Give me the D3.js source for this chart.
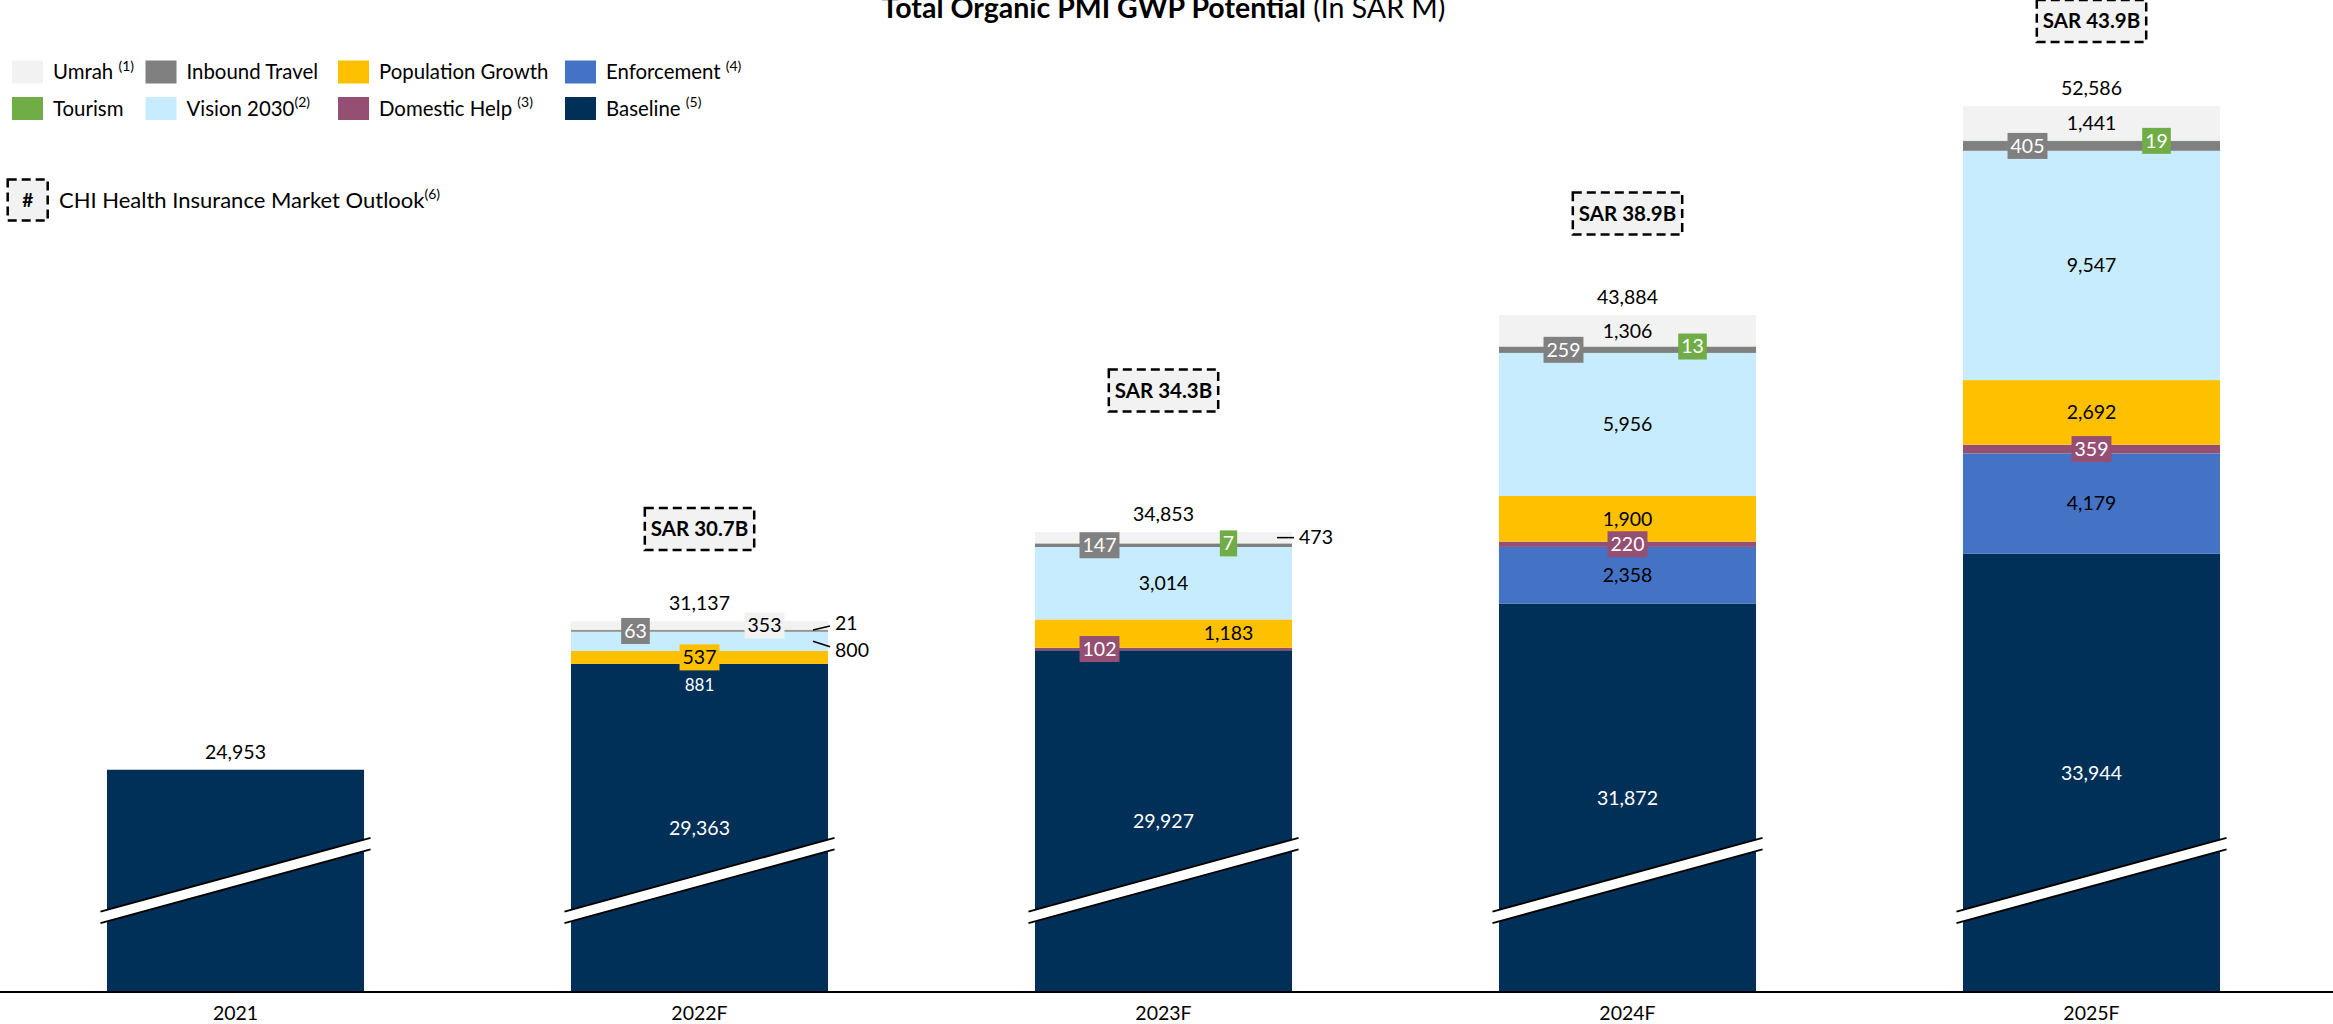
<!DOCTYPE html>
<html>
<head>
<meta charset="utf-8">
<script src="https://cdn.jsdelivr.net/npm/d3@7"></script>
<style>
  html, body { margin: 0; padding: 0; background: #ffffff; }
  svg { display: block; font-family: Lato, "Open Sans", sans-serif; }
</style>
</head>
<body>
<svg id="chart" width="2333" height="1024"></svg>
<script>
// ---- data (SAR M) ----
const categories       = ["2021", "2022F", "2023F", "2024F", "2025F"];
const baseline         = [24953, 29363, 29927, 31872, 33944];
const enforcement      = [0, 0, 0, 2358, 4179];
const domesticHelp     = [0, 0, 102, 220, 359];
const populationGrowth = [0, 537, 1183, 1900, 2692];
const vision2030       = [0, 800, 3014, 5956, 9547];
const inboundTravel    = [0, 63, 147, 259, 405];
const tourism          = [0, 21, 7, 13, 19];
const umrah            = [0, 353, 473, 1306, 1441];
const totals           = [24953, 31137, 34853, 43884, 52586];
// CHI health insurance market outlook, SAR B
const marketOutlook    = [null, 30.7, 34.3, 38.9, 43.9];
// extra figure printed inside the 2022F baseline block
const baselineNote     = [null, 881, null, null, null];

// stack order, bottom to top
const seriesNames  = ["Baseline", "Enforcement", "Domestic Help", "Population Growth",
                      "Vision 2030", "Inbound Travel", "Tourism", "Umrah"];
const seriesValues = [baseline, enforcement, domesticHelp, populationGrowth,
                      vision2030, inboundTravel, tourism, umrah];

const colors = {
  "Baseline": "#003057", "Enforcement": "#4472C4", "Domestic Help": "#954F72",
  "Population Growth": "#FFC000", "Vision 2030": "#C7ECFD", "Inbound Travel": "#808080",
  "Tourism": "#70AD47", "Umrah": "#F2F2F2"
};
const textColors = {
  "Baseline": "#ffffff", "Enforcement": "#000000", "Domestic Help": "#ffffff",
  "Population Growth": "#000000", "Vision 2030": "#000000", "Inbound Travel": "#ffffff",
  "Tourism": "#ffffff", "Umrah": "#000000"
};

// where a segment label sits when the segment is too thin to hold it
const labelLayout = {
  "2022F": { "Umrah": {pos: "r"}, "Tourism": {pos: "out", dy: -6.5},
             "Inbound Travel": {pos: "l"}, "Vision 2030": {pos: "out", dy: 9} },
  "2023F": { "Umrah": {pos: "out", dy: 0}, "Tourism": {pos: "r"}, "Inbound Travel": {pos: "l"},
             "Population Growth": {pos: "r"}, "Domestic Help": {pos: "l"} },
  "2024F": { "Tourism": {pos: "r"}, "Inbound Travel": {pos: "l"} },
  "2025F": { "Tourism": {pos: "r"}, "Inbound Travel": {pos: "l"} }
};

const table = categories.map((c, i) => {
  const row = { category: c };
  seriesNames.forEach((s, k) => row[s] = seriesValues[k][i]);
  return row;
});

// ---- layout ----
const svg = d3.select("#chart");
const axisY = 992;
const yFloor = 15700;        // value hidden behind the axis break
const axisBreak = 20340;     // value where the break band crosses each bar
const fmt = d3.format(",");
const labelSize = 19.5;
const legendSize = 20.4;

const x = d3.scaleBand().domain(categories).range([3.5, 2323.5])
  .paddingInner(0.446).paddingOuter(0.223);
const y = d3.scaleLinear().domain([yFloor, d3.max(totals)]).range([axisY, 106]).clamp(true);
const yOutlook = d3.scaleLinear().domain([30.7, 43.9]).range([529, 21]);
const bw = x.bandwidth();

const stacked = d3.stack().keys(seriesNames)(table);

// ---- bars ----
const gBars = svg.append("g");
stacked.forEach(layer => {
  gBars.selectAll(null).data(layer.filter(d => d[1] - d[0] > 0)).join("rect")
    .attr("x", d => x(d.data.category))
    .attr("y", d => y(d[1]))
    .attr("width", bw)
    .attr("height", d => y(d[0]) - y(d[1]))
    .attr("fill", colors[layer.key]);
});

// ---- axis break bands ----
const slope = 0.273, gap = 11.5, ext = 6.5;
const gBreak = svg.append("g");
categories.forEach(c => {
  const cx = x(c) + bw / 2;
  const xl = x(c) - ext, xr = x(c) + bw + ext;
  const yc = y(axisBreak);
  const topAt = xp => yc - gap / 2 - slope * (xp - cx);
  gBreak.append("polygon")
    .attr("points", [[xl, topAt(xl)], [xr, topAt(xr)], [xr, topAt(xr) + gap], [xl, topAt(xl) + gap]].join(" "))
    .attr("fill", "#ffffff");
  [0, gap].forEach(off => {
    gBreak.append("line")
      .attr("x1", xl).attr("y1", topAt(xl) + off)
      .attr("x2", xr).attr("y2", topAt(xr) + off)
      .attr("stroke", "#000").attr("stroke-width", 1.8);
  });
});

// ---- axis ----
svg.append("line").attr("x1", 0).attr("x2", 2333).attr("y1", axisY).attr("y2", axisY)
  .attr("stroke", "#000").attr("stroke-width", 2);
const xAxis = d3.axisBottom(x).tickSize(0).tickPadding(0);
const gAxis = svg.append("g").attr("transform", `translate(0,${axisY})`).call(xAxis);
gAxis.select(".domain").remove();
gAxis.selectAll("text").attr("font-family", "Lato, sans-serif").attr("font-size", labelSize)
  .attr("fill", "#000").attr("y", 21).attr("dy", "0.35em");

// ---- segment labels ----
const gLab = svg.append("g").attr("font-size", labelSize);
stacked.forEach(layer => {
  const s = layer.key;
  layer.forEach((d, i) => {
    const v = d[1] - d[0];
    const c = categories[i];
    if (v <= 0 || v === totals[i]) return;
    const cx = x(c) + bw / 2;
    const top = y(d[1]), bot = y(d[0]);
    const cy = (top + bot) / 2;
    const lay = (labelLayout[c] && labelLayout[c][s]) || {pos: "c"};
    if (lay.pos === "out") {
      const right = x(c) + bw;
      const ty = cy + lay.dy;
      gLab.append("line").attr("x1", right - 15).attr("y1", cy)
        .attr("x2", right + 2).attr("y2", cy + lay.dy * 0.6)
        .attr("stroke", "#000").attr("stroke-width", 1.5);
      gLab.append("text").attr("x", right + 7).attr("y", ty).attr("dy", "0.35em")
        .attr("fill", "#000").text(fmt(v));
      return;
    }
    const lx = lay.pos === "l" ? cx - 64 : lay.pos === "r" ? cx + 65 : cx;
    const boxed = (bot - top) < 20;
    const t = gLab.append("text").attr("x", lx).attr("y", cy).attr("dy", "0.35em")
      .attr("text-anchor", "middle").attr("fill", textColors[s]).text(fmt(v));
    if (boxed) {
      const w = t.node().getComputedTextLength() + 6;
      gLab.insert("rect", () => t.node())
        .attr("x", lx - w / 2).attr("y", cy - 13).attr("width", w).attr("height", 26)
        .attr("fill", colors[s]);
    }
  });
});

// note figure inside the 2022F baseline block
baselineNote.forEach((n, i) => {
  if (n == null) return;
  const c = categories[i];
  gLab.append("text").attr("x", x(c) + bw / 2).attr("y", y(baseline[i]) + 21).attr("dy", "0.35em")
    .attr("text-anchor", "middle").attr("fill", "#fff").attr("font-size", 17).text(fmt(n));
});

// ---- totals ----
svg.append("g").selectAll("text").data(categories).join("text")
  .attr("x", c => x(c) + bw / 2)
  .attr("y", (c, i) => y(totals[i]) - 18).attr("dy", "0.35em")
  .attr("text-anchor", "middle").attr("font-size", labelSize).attr("fill", "#000")
  .text((c, i) => fmt(totals[i]));

// ---- market outlook boxes ----
function dashedBox(g, cx, cy, label, minW, h, size) {
  const t = g.append("text").attr("x", cx).attr("y", cy).attr("dy", "0.35em")
    .attr("text-anchor", "middle").attr("font-weight", 700).attr("font-size", size)
    .attr("fill", "#000").text(label);
  const w = Math.max(minW, t.node().getComputedTextLength() + 12);
  g.insert("rect", () => t.node())
    .attr("x", cx - w / 2).attr("y", cy - h / 2).attr("width", w).attr("height", h)
    .attr("fill", "#F2F2F2").attr("stroke", "#000").attr("stroke-width", 2.5)
    .attr("stroke-dasharray", "9,5");
}
const gOut = svg.append("g");
marketOutlook.forEach((m, i) => {
  if (m == null) return;
  dashedBox(gOut, x(categories[i]) + bw / 2, yOutlook(m), `SAR ${m.toFixed(1)}B`, 0, 42, 20.5);
});

// ---- title ----
const title = svg.append("text").attr("x", 1163.5).attr("y", 18).attr("text-anchor", "middle")
  .attr("font-size", 28.5).attr("fill", "#000");
title.append("tspan").attr("font-weight", 700).text("Total Organic PMI GWP Potential");
title.append("tspan").text(" (In SAR M)");

// ---- legend ----
const legendItems = [
  {key: "Umrah", label: "Umrah ", sup: "(1)", col: 0, row: 0},
  {key: "Inbound Travel", label: "Inbound Travel", sup: "", col: 1, row: 0},
  {key: "Population Growth", label: "Population Growth", sup: "", col: 2, row: 0},
  {key: "Enforcement", label: "Enforcement ", sup: "(4)", col: 3, row: 0},
  {key: "Tourism", label: "Tourism", sup: "", col: 0, row: 1},
  {key: "Vision 2030", label: "Vision 2030", sup: "(2)", col: 1, row: 1},
  {key: "Domestic Help", label: "Domestic Help ", sup: "(3)", col: 2, row: 1},
  {key: "Baseline", label: "Baseline ", sup: "(5)", col: 3, row: 1}
];
const legendCols = [12, 145.5, 338, 565];
const legendRows = [72, 108.5];
const gLeg = svg.append("g");
legendItems.forEach(it => {
  const lx = legendCols[it.col], ly = legendRows[it.row];
  gLeg.append("rect").attr("x", lx).attr("y", ly - 11.5).attr("width", 31).attr("height", 23)
    .attr("fill", colors[it.key]);
  const t = gLeg.append("text").attr("x", lx + 41).attr("y", ly).attr("dy", "0.35em")
    .attr("font-size", legendSize).attr("fill", "#000");
  t.append("tspan").text(it.label);
  if (it.sup) t.append("tspan").attr("font-size", 14).attr("dy", "-0.6em").text(it.sup);
});
dashedBox(gLeg, 27.7, 200, "#", 40, 41, 19);
const lt = gLeg.append("text").attr("x", 59).attr("y", 200).attr("dy", "0.35em")
  .attr("font-size", 22).attr("fill", "#000");
lt.append("tspan").text("CHI Health Insurance Market Outlook");
lt.append("tspan").attr("font-size", 14).attr("dy", "-0.6em").text("(6)");
</script>
</body>
</html>
